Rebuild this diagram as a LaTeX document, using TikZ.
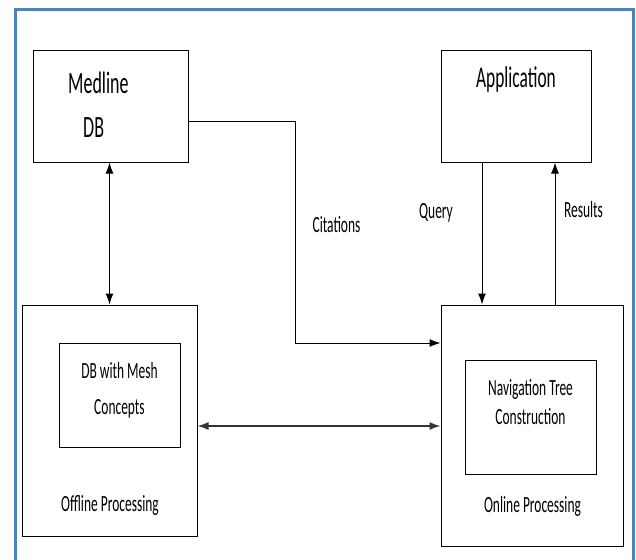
\documentclass[tikz,border=0pt]{standalone}
\usepackage{fontspec}
\setmainfont{Carlito}[FakeStretch=0.58]
\usetikzlibrary{positioning}
\usetikzlibrary{arrows.meta}
\definecolor{frameblue}{RGB}{79,129,189}

\tikzset{
  box/.style={draw, line width=1pt, rectangle, inner sep=0pt},
  bigtxt/.style={font=\fontsize{31}{36}\selectfont, inner sep=0pt},
  smalltxt/.style={font=\fontsize{23.2}{27}\selectfont, inner sep=0pt},
  flow/.style={line width=1pt, arrows={-Latex[length=11pt,width=8pt]}},
  twoway/.style={line width=1pt, arrows={Latex[length=11pt,width=8pt]-Latex[length=11pt,width=8pt]}}
}

\begin{document}
\begin{tikzpicture}[x=1pt,y=-1pt]
        \useasboundingbox (0,0) rectangle (636,559);
        % Outer frame (bottom edge is cut off)
        \draw[line width=3pt, frameblue] (15.5,570) -- (15.5,10) -- (633,10) -- (633,570);
        % Top boxes
        \node[box, minimum width=155pt, minimum height=111pt] (medline) at (110.5,106.5) {};
        \node[bigtxt, anchor=base west] (medlinetxt) at (68,93) {Medline};
        \node[bigtxt, anchor=base west] (dbtxt) at (83,137) {DB};
        \node[box, minimum width=150pt, minimum height=111pt] (application) at (516,106.5) {};
        \node[bigtxt, font=\fontsize{30}{34}\selectfont, anchor=base] (apptxt) at (516,88) {Application};
        % Offline side
        \node[box, minimum width=175pt, minimum height=231pt] (offline) at (109.5,420.5) {};
        \node[box, minimum width=121pt, minimum height=104pt] (dbmesh) at (119.5,395) {};
        \node[smalltxt, anchor=base] (dbmeshtxt) at (119.5,378) {DB with Mesh};
        \node[smalltxt, anchor=base] (concepttxt) at (119.5,414) {Concepts};
        \node[smalltxt, anchor=base] (offlinetxt) at (110,511) {Offline Processing};
        % Online side
        \node[box, minimum width=182pt, minimum height=241pt] (online) at (532,425.5) {};
        \node[box, minimum width=131pt, minimum height=114pt] (navtree) at (530.5,417) {};
        \node[smalltxt, anchor=base] (navtxt) at (530.5,395) {Navigation Tree};
        \node[smalltxt, anchor=base] (constrtxt) at (530.5,424) {Construction};
        \node[smalltxt, anchor=base] (onlinetxt) at (532.5,512) {Online Processing};
        % Connectors
        \coordinate (citbend) at (295,343);
        \draw[twoway] (offline.north) -- (offline.north |- medline.south);
        \draw[flow] ([yshift=-15pt]medline.east) -| (citbend) -- (online.west |- citbend);
        \draw[flow] ([xshift=-34pt]application.south) -- ([xshift=-34pt]application.south |- online.north);
        \draw[flow] ([xshift=39pt]application.south |- online.north) -- ([xshift=39pt]application.south);
        \draw[twoway, line width=1.6pt, black!80] ([yshift=-5.5pt]offline.east) -- ([yshift=-5.5pt]offline.east -| online.west);
        % Labels
        \node[smalltxt, anchor=base] (citelbl) at (336.5,232) {Citations};
        \node[smalltxt, anchor=base] (querylbl) at (436,218) {Query};
        \node[smalltxt, anchor=base] (resultslbl) at (583.5,217) {Results};
\end{tikzpicture}
\end{document}
